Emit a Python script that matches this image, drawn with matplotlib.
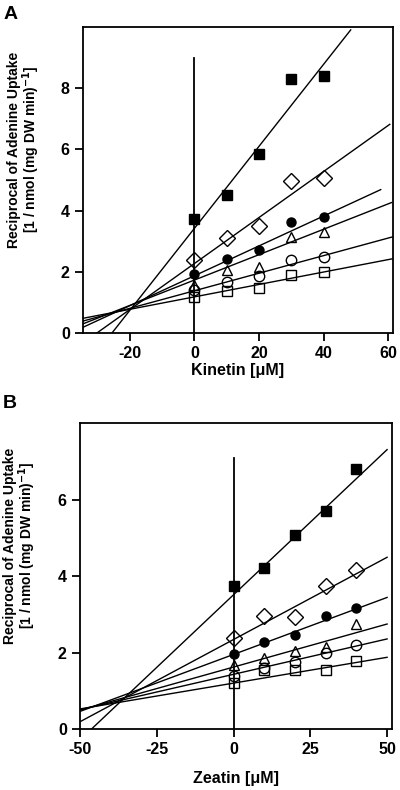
import numpy as np
import matplotlib
matplotlib.use("Agg")
import matplotlib.pyplot as plt

plt.rcParams['font.family'] = ['Liberation Sans', 'DejaVu Sans']
plt.rcParams['font.weight'] = 'bold'
plt.rcParams['axes.unicode_minus'] = False

# concentrations of inhibitor (uM)
conc = [0, 10, 20, 30, 40]

# series order: filled square, open diamond, filled circle, open triangle, open circle, open square
markers = ['s', 'D', 'o', '^', 'o', 's']
filled = [True, False, True, False, False, False]
msizes = [6.5, 8, 6.5, 7.5, 7.5, 7.5]

# panel A - kinetin, reciprocal uptake
kin_y = [
    [3.74, 4.52, 5.85, 8.3, 8.4],
    [2.37, 3.1, 3.49, 4.96, 5.05],
    [1.93, 2.42, 2.72, 3.63, 3.79],
    [1.58, 2.07, 2.17, 3.14, 3.3],
    [1.41, 1.67, 1.85, 2.39, 2.47],
    [1.17, 1.38, 1.46, 1.9, 1.98],
]
kin_icpt = [3.42, 2.27, 1.87, 1.73, 1.38, 1.18]
kin_slope = [0.134, 0.0752, 0.0488, 0.0415, 0.0287, 0.0203]
kin_xend = [48.4, 60.5, 57.7, 61.0, 61.5, 61.5]

# panel B - zeatin
zea_y = [
    [3.75, 4.2, 5.06, 5.69, 6.8],
    [2.39, 2.96, 2.94, 3.75, 4.17],
    [1.95, 2.28, 2.45, 2.96, 3.16],
    [1.68, 1.86, 2.03, 2.14, 2.74],
    [1.38, 1.6, 1.75, 1.99, 2.19],
    [1.2, 1.55, 1.53, 1.53, 1.79],
]
zea_icpt = [3.51, 2.34, 1.95, 1.62, 1.43, 1.2]
zea_slope = [0.0759, 0.043, 0.0298, 0.0225, 0.0185, 0.0135]
zea_xend = [50, 50, 50, 50, 50, 50]


def draw_panel(ax, ys, icpt, slope, xend, xlim, ylim, vtop, xticks, yticks, xlabel, lpad):
    for i in range(len(ys)):
        xs = np.array([xlim[0], xend[i]])
        ax.plot(xs, icpt[i] + slope[i] * xs, color='black', lw=1.0, zorder=2)
        ax.plot(conc, ys[i], linestyle='none', marker=markers[i], ms=msizes[i],
                mfc='black' if filled[i] else 'none', mec='black', mew=1.0, zorder=3)
    ax.plot([0, 0], [0, vtop], color='black', lw=1.3, zorder=2)
    ax.set_xlim(xlim)
    ax.set_ylim(ylim)
    ax.set_xticks(xticks)
    ax.set_yticks(yticks)
    for s in ax.spines.values():
        s.set_linewidth(1.3)
    ax.tick_params(direction='out', length=6, width=1.3, labelsize=11.5)
    ax.set_xlabel(xlabel, fontsize=11.5, fontweight='bold', labelpad=lpad)
    ax.text(-0.19, 0.6, 'Reciprocal of Adenine Uptake\n[1 / nmol (mg DW min)$^{\\mathbf{-1}}$]',
            transform=ax.transAxes, rotation=90, ha='center', va='center',
            fontsize=10, fontweight='bold', linespacing=0.95)


fig = plt.figure(figsize=(4, 7.9), dpi=100)
axA = fig.add_axes([0.2075, 0.5785, 0.775, 0.3873])
axB = fig.add_axes([0.2, 0.0772, 0.78, 0.3873])

draw_panel(axA, kin_y, kin_icpt, kin_slope, kin_xend, (-34.5, 61.5), (0, 10), 9.0,
           [-20, 0, 20, 40, 60], [0, 2, 4, 6, 8], 'Kinetin [\u03bcM]', 1)
draw_panel(axB, zea_y, zea_icpt, zea_slope, zea_xend, (-50, 51.6), (0, 8), 7.08,
           [-50, -25, 0, 25, 50], [0, 2, 4, 6], 'Zeatin [\u03bcM]', 10)

fig.text(0.008, 0.993, 'A', fontsize=14, fontweight='bold', va='top')
fig.text(0.008, 0.5, 'B', fontsize=14, fontweight='bold', va='top')

fig.savefig('out.png', dpi=100)
